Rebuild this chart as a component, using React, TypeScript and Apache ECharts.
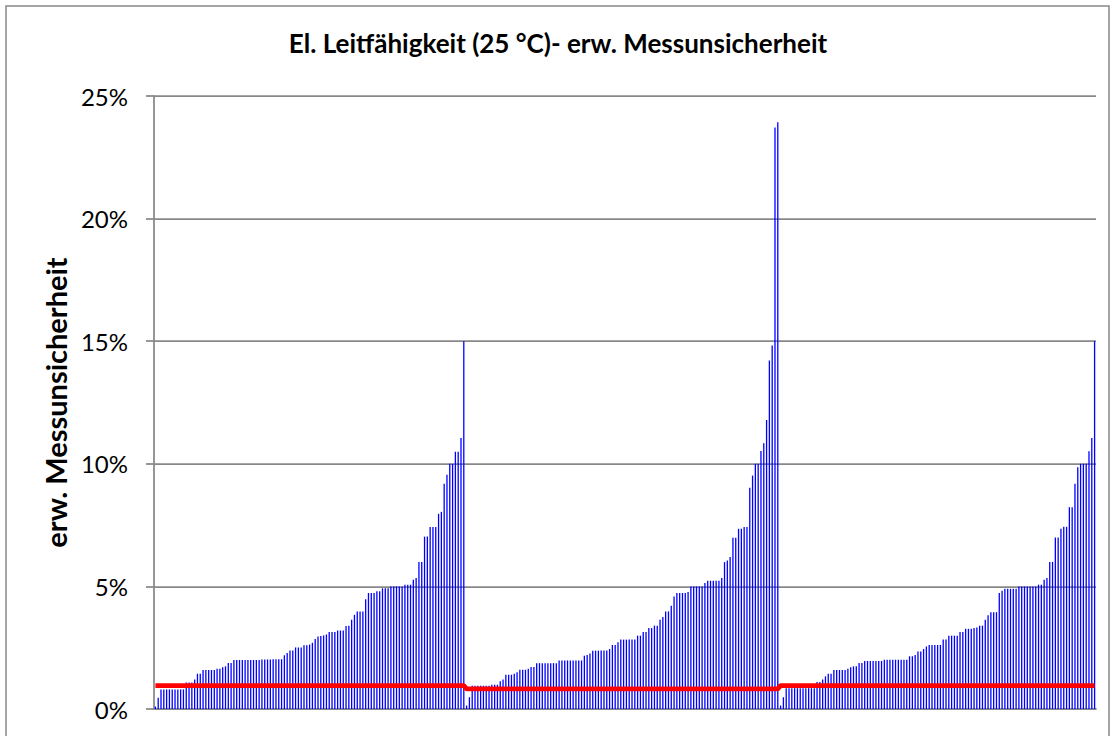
import React, { useEffect, useRef } from "react";
import * as echarts from "echarts";

// erw. Messunsicherheit (%) per sample, three sorted groups
const groupA = [
  0.1, 0.46,
  0.8, 0.8, 0.8, 0.8, 0.8, 0.8, 0.8, 0.8, 0.8,
  1.08, 1.08, 1.08, 1.2, 1.44, 1.44,
  1.59, 1.59, 1.59, 1.59, 1.59, 1.64, 1.64, 1.7, 1.74, 1.88, 1.88,
  2.0, 2.0, 2.0, 2.0, 2.0, 2.0, 2.0, 2.0, 2.0, 2.0, 2.02, 2.02, 2.02, 2.02, 2.03, 2.03, 2.03, 2.03,
  2.19, 2.28, 2.39, 2.39, 2.51, 2.51, 2.51, 2.6, 2.6, 2.63, 2.7, 2.85,
  2.96, 2.98, 3.0, 3.04, 3.14, 3.14, 3.14, 3.2, 3.2, 3.2, 3.38, 3.4,
  3.64, 3.84, 3.98, 3.98, 3.98, 4.48, 4.73, 4.73, 4.73, 4.8, 4.8,
  4.92, 4.92, 4.92, 5.0, 5.0, 5.0, 5.0, 5.0, 5.07, 5.07, 5.07, 5.27, 5.34,
  6.0, 6.0, 7.03, 7.03, 7.42, 7.42, 7.42, 7.96, 8.04, 9.19, 9.55,
  10.0, 10.0, 10.49, 10.49, 11.05, 15.0,
];
const groupB = [
  0.14, 0.48,
  0.95, 0.95, 0.95, 0.95, 0.95, 0.95, 0.95, 0.99, 0.99, 0.99,
  1.13, 1.2, 1.4, 1.4, 1.4, 1.44, 1.5, 1.6, 1.6, 1.6, 1.64, 1.71, 1.71,
  1.87, 1.87, 1.87, 1.87, 1.87, 1.87, 1.87, 1.87,
  1.98, 1.98, 1.98, 1.98, 1.98, 1.98, 1.98, 1.98, 1.98,
  2.17, 2.2, 2.26, 2.38, 2.38, 2.38, 2.39, 2.39, 2.39, 2.45, 2.61, 2.61, 2.72,
  2.83, 2.83, 2.83, 2.83, 2.83, 2.83, 2.99, 2.99, 3.14, 3.14, 3.3, 3.3, 3.4, 3.4,
  3.64, 3.75, 3.98, 3.98, 4.21, 4.59, 4.73, 4.73, 4.73, 4.73, 4.77,
  5.0, 5.0, 5.0, 5.0, 5.0, 5.14, 5.23, 5.23, 5.23, 5.23, 5.23, 5.34,
  5.99, 6.06, 6.2, 6.98, 6.98, 7.35, 7.35, 7.42, 7.42, 9.02, 9.52,
  10.0, 10.0, 10.52, 10.84, 11.79, 14.21, 14.82, 23.72, 23.93,
];
const groupC = [
  0.14, 0.48,
  0.85, 0.85, 0.85, 0.85, 0.85, 0.85, 0.85, 0.85, 0.85, 0.85, 0.85,
  1.1, 1.1, 1.2, 1.33, 1.44, 1.44, 1.59, 1.59, 1.59, 1.59, 1.59,
  1.64, 1.7, 1.74, 1.74, 1.88, 1.88,
  1.96, 1.96, 1.96, 1.96, 1.96, 1.96, 1.96,
  2.01, 2.01, 2.01, 2.01, 2.01, 2.01, 2.01, 2.01, 2.01,
  2.15, 2.15, 2.2, 2.34, 2.34, 2.45, 2.55, 2.61, 2.61, 2.61, 2.61, 2.61,
  2.83, 2.83, 2.99, 2.99, 2.99, 2.99, 3.14, 3.14, 3.27, 3.27, 3.27, 3.3, 3.32,
  3.4, 3.4, 3.64, 3.82, 3.95, 3.95, 3.95, 4.73, 4.82,
  4.9, 4.9, 4.9, 4.9, 4.9, 5.0, 5.0, 5.0, 5.0, 5.0, 5.0, 5.0, 5.07, 5.07,
  5.27, 5.34, 6.0, 6.0, 6.99, 6.99, 7.35, 7.43, 7.43, 8.23, 8.23, 9.19, 9.86,
  10.0, 10.0, 10.0, 10.51, 11.05, 15.0,
];
// Red limit line per group (%)
const groupLimits = [0.95, 0.82, 0.95];
const yTickValues = [0, 5, 10, 15, 20, 25];

const TITLE = "El. Leitfähigkeit (25 °C)- erw. Messunsicherheit";
const Y_NAME = "erw. Messunsicherheit";
const FONT = "Lato, 'Noto Sans', sans-serif";
const GRAY = "#888888";

export default function App() {
  const ref = useRef<HTMLDivElement>(null);
  useEffect(() => {
    if (!ref.current) return;
    const chart = echarts.init(ref.current, null, { renderer: "svg" });
    const groups = [groupA, groupB, groupC];
    const values = groups.flat();
    const limit = groups.flatMap((g, gi) => g.map(() => groupLimits[gi]));
    const categories = values.map((_, i) => String(i + 1));
    chart.setOption({
      animation: false,
      backgroundColor: "#ffffff",
      title: {
        text: TITLE,
        left: "center",
        top: 25,
        textStyle: { fontFamily: FONT, fontSize: 26, fontWeight: "bold", color: "#000" },
      },
      graphic: [
        {
          type: "rect",
          silent: true,
          shape: { x: 6, y: 6, width: 1103, height: 760 },
          style: { fill: "none", stroke: GRAY, lineWidth: 1.5 },
        },
      ],
      grid: { left: 154, right: 20, top: 96, bottom: 27 },
      xAxis: {
        type: "category",
        data: categories,
        axisLine: { lineStyle: { color: GRAY, width: 1.75 } },
        axisTick: { show: false },
        axisLabel: { show: false },
      },
      yAxis: {
        type: "value",
        min: yTickValues[0],
        max: yTickValues[yTickValues.length - 1],
        interval: yTickValues[1] - yTickValues[0],
        name: Y_NAME,
        nameLocation: "middle",
        nameRotate: 90,
        nameGap: 74,
        nameTextStyle: { fontFamily: FONT, fontSize: 29, fontWeight: "bold", color: "#000" },
        axisLine: { show: true, lineStyle: { color: GRAY, width: 1.75 } },
        axisTick: { show: true, length: 8, lineStyle: { color: GRAY, width: 1.75 } },
        axisLabel: { formatter: "{value}%", margin: 26, fontSize: 24, color: "#000", fontFamily: FONT },
        splitLine: { show: true, lineStyle: { color: GRAY, width: 1.75 } },
      },
      series: [
        {
          type: "bar",
          data: values,
          barWidth: 1.3,
          itemStyle: { color: "#0000ff" },
          silent: true,
        },
        {
          type: "line",
          data: limit,
          symbol: "none",
          z: 5,
          lineStyle: { color: "#ff0000", width: 4.8 },
          silent: true,
        },
      ],
    });
    return () => chart.dispose();
  }, []);
  return (
    <div
      ref={ref}
      style={{ position: "absolute", left: 0, top: 0, width: 1116, height: 736 }}
    />
  );
}
